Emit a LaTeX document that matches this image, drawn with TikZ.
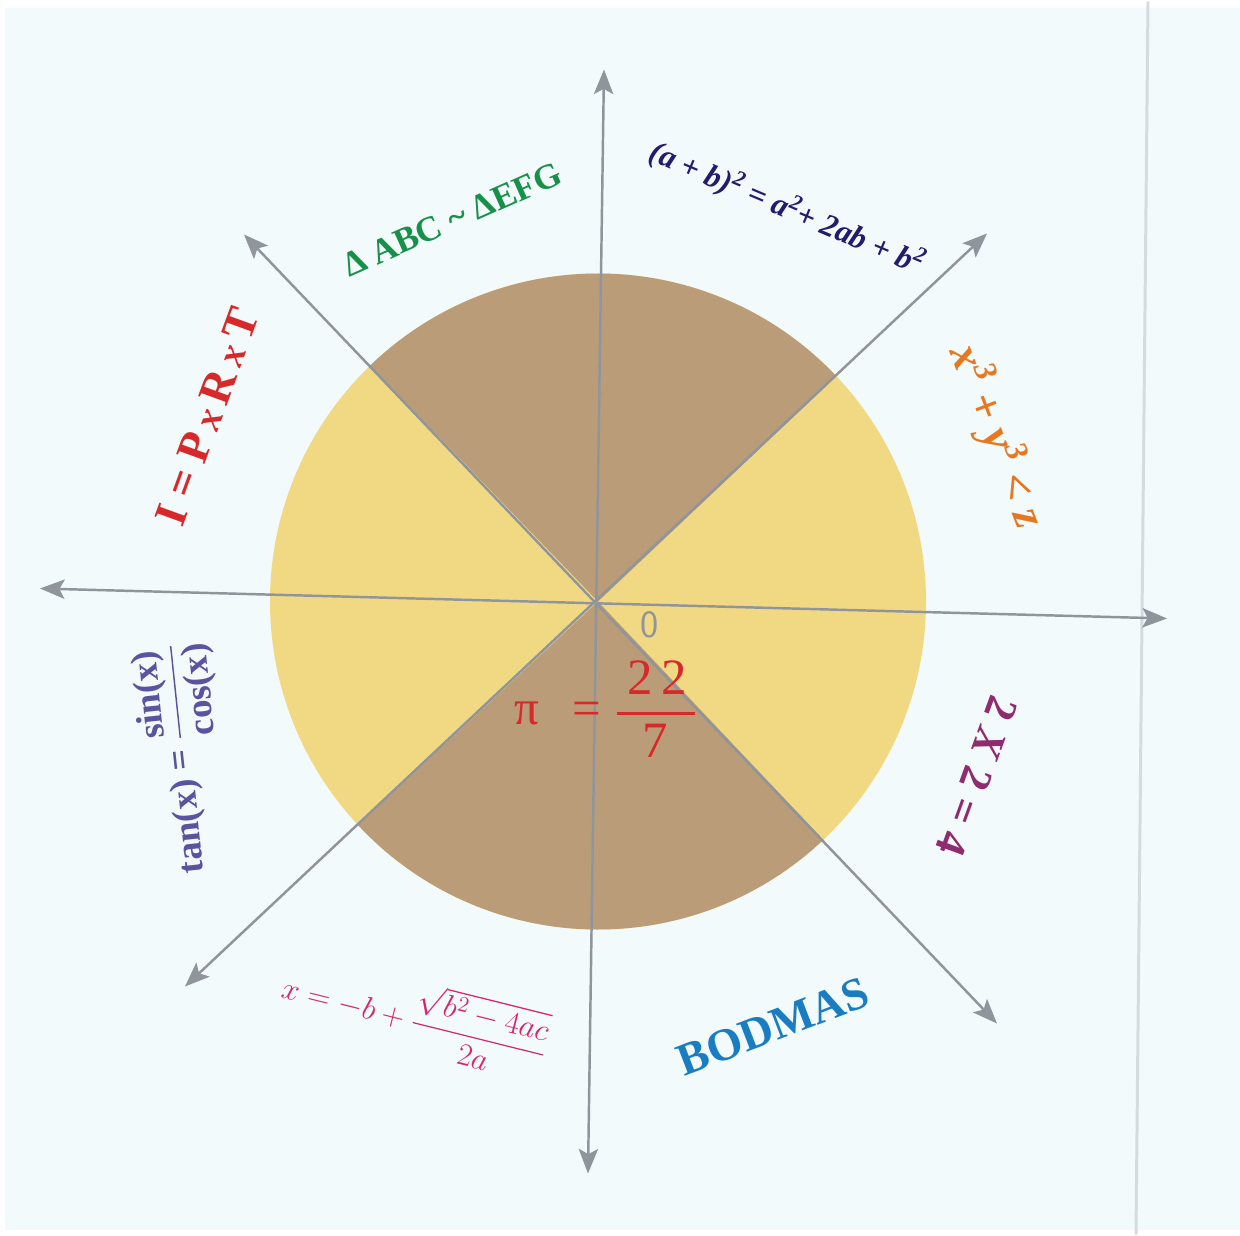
\documentclass[tikz,border=0pt]{standalone}
\usepackage{fix-cm}
\usepackage{amsmath}
\usepackage{fontspec}
\setmainfont{Liberation Serif}
\usepackage{tikz}
\usetikzlibrary{arrows.meta}

\definecolor{paper}{HTML}{F3FAFB}
\definecolor{edge}{HTML}{D6DCDE}
\definecolor{axisgray}{HTML}{8F959A}
\definecolor{sand}{HTML}{F1D984}
\definecolor{cocoa}{HTML}{BA9C78}
\definecolor{leaf}{HTML}{17904A}
\definecolor{ink}{HTML}{221C6E}
\definecolor{tang}{HTML}{E8781F}
\definecolor{brick}{HTML}{D7282A}
\definecolor{slate}{HTML}{5A53A0}
\definecolor{plum}{HTML}{8F2B6E}
\definecolor{rose}{HTML}{D6266E}
\definecolor{ocean}{HTML}{1A7DC2}

\begin{document}
\begin{tikzpicture}[>={Stealth[length=14pt,width=11pt,inset=3pt]},
  axis/.style={<->, draw=axisgray, line width=1.4pt},
  lbl/.style={inner sep=0pt, font=\fontsize{#1}{#1}\selectfont\bfseries},
  plain/.style={inner sep=0pt, font=\fontsize{#1}{#1}\selectfont}]
% Paper
\fill[white] (-11.96,-12.66) rectangle (12.84,12.0);
\fill[paper] (-11.86,-12.56) rectangle (12.84,11.86);
\draw[edge, line width=1.7pt] (11.0,12.0) -- (10.76,-12.66);

% Disc: yellow left/right, brown top/bottom
\fill[sand] (0,0) circle (6.56);
\fill[cocoa] (0,0) -- (43.4:6.56) arc[start angle=43.4, end angle=134, radius=6.56] -- cycle;
\fill[cocoa] (0,0) -- (223:6.56) arc[start angle=223, end angle=313.4, radius=6.56] -- cycle;

% Axes
\coordinate (w) at (-11.16,0.26);
\coordinate (e) at (11.38,-0.34);
\coordinate (n) at (0.12,10.64);
\coordinate (s) at (-0.2,-11.44);
\coordinate (nw) at (-7.08,7.34);
\coordinate (se) at (7.98,-8.44);
\coordinate (ne) at (7.78,7.36);
\coordinate (sw) at (-8.26,-7.7);
\draw[axis] (w) -- (e);
\draw[axis] (n) -- (s);
\draw[axis] (nw) -- (se);
\draw[axis] (ne) -- (sw);

% Formulas round the disc
\node[lbl=20, text=leaf, rotate=24] (sim) at (-2.92,7.64) {Δ ABC \textasciitilde{} ΔEFG};
\node[lbl=18, text=ink, rotate=-23] (sq) at (3.78,7.86)
  {\itshape (a + b)\textsuperscript{2} = a\textsuperscript{2}+ 2ab + b\textsuperscript{2}};
\node[lbl=26, text=tang, rotate=-69] (cube) at (7.98,3.3)
  {\itshape x\textsuperscript{3} + y\textsuperscript{3} < z};
\node[lbl=26, text=brick, rotate=70] (int) at (-7.82,3.7)
  {I = P\,{\itshape\fontsize{22}{22}\selectfont x}\,R\,{\itshape\fontsize{22}{22}\selectfont x}\,T};
\node[lbl=21, text=slate, rotate=96] (tan) at (-8.3,-3.14)
  {tan(x) = $\dfrac{\text{\bfseries sin(x)}}{\text{\bfseries cos(x)}}$};
\node[lbl=25, text=plum, rotate=-110] (two) at (7.58,-3.5) {2 \textit{X} 2 = 4};
\node[plain=18, text=rose, rotate=-14] (quad) at (-3.66,-8.3)
  {$x = -b + \dfrac{\sqrt{b^2-4ac}}{2a}$};
\node[lbl=26, text=ocean, rotate=21] (bod) at (3.5,-8.5) {BODMAS};

% Centre
\node[plain=22, text=axisgray, font=\fontsize{22}{22}\selectfont\sffamily] (zero) at (1.04,-0.46) {0};
\node[plain=28, text=brick] (pi) at (-1.42,-2.24) {π};
\node[plain=29, text=brick] (eq) at (-0.22,-2.24) {=};
\node[plain=29, text=brick, anchor=base] (num) at (1.18,-1.85) {2\,2};
\node[plain=29, text=brick, anchor=north] (den) at (1.14,-2.45) {7};
\coordinate (barl) at (0.38,-2.24);
\coordinate (barr) at (1.94,-2.24);
\draw[brick, line width=1.6pt] (barl) -- (barr);
\end{tikzpicture}
\end{document}
